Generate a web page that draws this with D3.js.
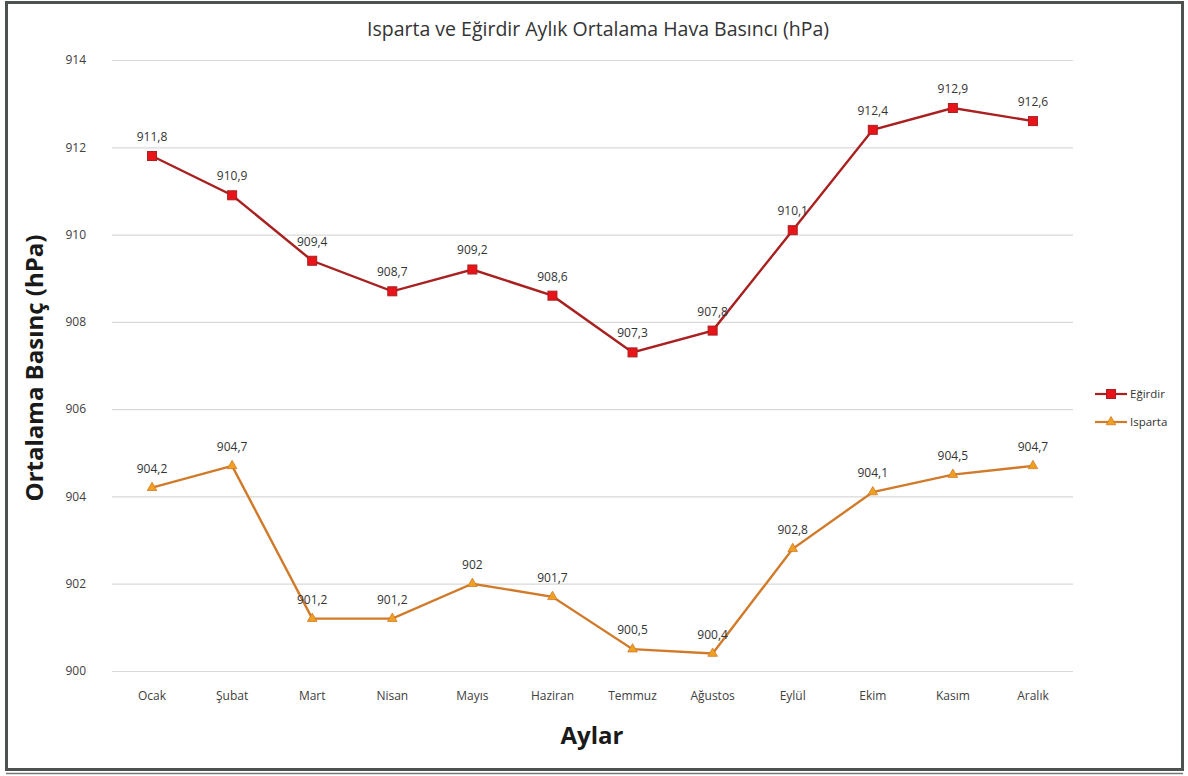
<!DOCTYPE html>
<html>
<head>
<meta charset="utf-8">
<script src="https://cdn.jsdelivr.net/npm/d3@7"></script>
<style>
  html, body { margin: 0; padding: 0; background: #fff; }
  svg { display: block; }
</style>
</head>
<body>
<svg id="chart" width="1188" height="776"></svg>
<script>
// Monthly mean air pressure (hPa) for Eğirdir and Isparta
const months = ["Ocak", "Şubat", "Mart", "Nisan", "Mayıs", "Haziran", "Temmuz", "Ağustos", "Eylül", "Ekim", "Kasım", "Aralık"];
const egirdir = [911.8, 910.9, 909.4, 908.7, 909.2, 908.6, 907.3, 907.8, 910.1, 912.4, 912.9, 912.6];
const isparta = [904.2, 904.7, 901.2, 901.2, 902.0, 901.7, 900.5, 900.4, 902.8, 904.1, 904.5, 904.7];
const yTicks = [900, 902, 904, 906, 908, 910, 912, 914];

const series = [
  { name: "Eğirdir", values: egirdir, line: "#a8201f", fill: "#e8141a", stroke: "#a8201f", shape: "square" },
  { name: "Isparta", values: isparta, line: "#d07a2a", fill: "#f0a020", stroke: "#d07a2a", shape: "triangle" }
];

const svg = d3.select("#chart");
const W = 1188, H = 776;
const font = "'Open Sans', 'Noto Sans', sans-serif";

// outer frame
svg.append("rect").attr("x", 0).attr("y", 0).attr("width", W).attr("height", H).attr("fill", "#fff");
svg.append("rect").attr("x", 6.5).attr("y", 2.5).attr("width", 1176).attr("height", 767)
  .attr("fill", "none").attr("stroke", "#4d524f").attr("stroke-width", 3);
svg.append("line").attr("x1", 6).attr("x2", 1183).attr("y1", 773.5).attr("y2", 773.5)
  .attr("stroke", "#777").attr("stroke-width", 1.5);

const plot = { left: 112, right: 1073, top: 60, bottom: 671 };

const x = d3.scaleBand().domain(months).range([plot.left, plot.right]);
const y = d3.scaleLinear().domain([900, 914]).range([plot.bottom, plot.top]);
const cx = m => x(m) + x.bandwidth() / 2;

// gridlines + y tick labels
const yAxis = d3.axisLeft(y).tickValues(yTicks).tickSize(-(plot.right - plot.left)).tickFormat(d3.format("d")).tickPadding(26);
const gy = svg.append("g").attr("transform", `translate(${plot.left},0)`).call(yAxis);
gy.select(".domain").remove();
gy.selectAll(".tick line").attr("stroke", "#d9d9d9").attr("stroke-width", 1.2);
gy.selectAll(".tick text").attr("fill", "#404040").style("font-family", font).style("font-size", "12px");

// x labels
const xAxis = d3.axisBottom(x).tickSize(0).tickPadding(20);
const gx = svg.append("g").attr("transform", `translate(0,${plot.bottom})`).call(xAxis);
gx.select(".domain").remove();
gx.selectAll(".tick text").attr("fill", "#404040").style("font-family", font).style("font-size", "12px");

const fmt = v => String(v).replace(".", ",");
const lineGen = d3.line().x((d, i) => cx(months[i])).y(d => y(d));

series.forEach(s => {
  svg.append("path").datum(s.values).attr("d", lineGen)
    .attr("fill", "none").attr("stroke", s.line).attr("stroke-width", 2.4);

  const g = svg.append("g");
  if (s.shape === "square") {
    g.selectAll("rect").data(s.values).join("rect")
      .attr("x", (d, i) => cx(months[i]) - 4.5).attr("y", d => y(d) - 4.5)
      .attr("width", 9).attr("height", 9)
      .attr("fill", s.fill).attr("stroke", s.stroke).attr("stroke-width", 1);
  } else {
    const tri = d3.symbol().type(d3.symbolTriangle).size(40);
    g.selectAll("path").data(s.values).join("path")
      .attr("d", tri)
      .attr("transform", (d, i) => `translate(${cx(months[i])},${y(d)})`)
      .attr("fill", s.fill).attr("stroke", s.stroke).attr("stroke-width", 0.8);
  }

  svg.append("g").selectAll("text").data(s.values).join("text")
    .attr("x", (d, i) => cx(months[i]))
    .attr("y", d => y(d) - 15)
    .attr("text-anchor", "middle")
    .attr("fill", "#333")
    .style("font-family", font).style("font-size", "12px")
    .text(d => fmt(d));
});

// title
svg.append("text").attr("x", 598).attr("y", 36).attr("text-anchor", "middle")
  .attr("fill", "#333").style("font-family", font).style("font-size", "19.5px")
  .text("Isparta ve Eğirdir Aylık Ortalama Hava Basıncı (hPa)");

// axis titles
svg.append("text").attr("transform", "translate(43,368) rotate(-90)").attr("text-anchor", "middle")
  .attr("fill", "#1a1a1a").style("font-family", font).style("font-size", "24px").style("font-weight", "bold")
  .text("Ortalama Basınç (hPa)");
svg.append("text").attr("x", 592).attr("y", 744).attr("text-anchor", "middle")
  .attr("fill", "#1a1a1a").style("font-family", font).style("font-size", "24px").style("font-weight", "bold")
  .text("Aylar");

// legend
const legend = svg.append("g");
series.forEach((s, i) => {
  const ly = 394 + i * 28;
  legend.append("line").attr("x1", 1095).attr("x2", 1127).attr("y1", ly).attr("y2", ly)
    .attr("stroke", s.line).attr("stroke-width", 2.2);
  if (s.shape === "square") {
    legend.append("rect").attr("x", 1106.5).attr("y", ly - 4.5).attr("width", 9).attr("height", 9)
      .attr("fill", s.fill).attr("stroke", s.stroke);
  } else {
    legend.append("path").attr("d", d3.symbol().type(d3.symbolTriangle).size(40))
      .attr("transform", `translate(1111,${ly})`).attr("fill", s.fill).attr("stroke", s.stroke).attr("stroke-width", 0.8);
  }
  legend.append("text").attr("x", 1130).attr("y", ly + 4).attr("fill", "#333")
    .style("font-family", font).style("font-size", "11.5px").text(s.name);
});
</script>
</body>
</html>
